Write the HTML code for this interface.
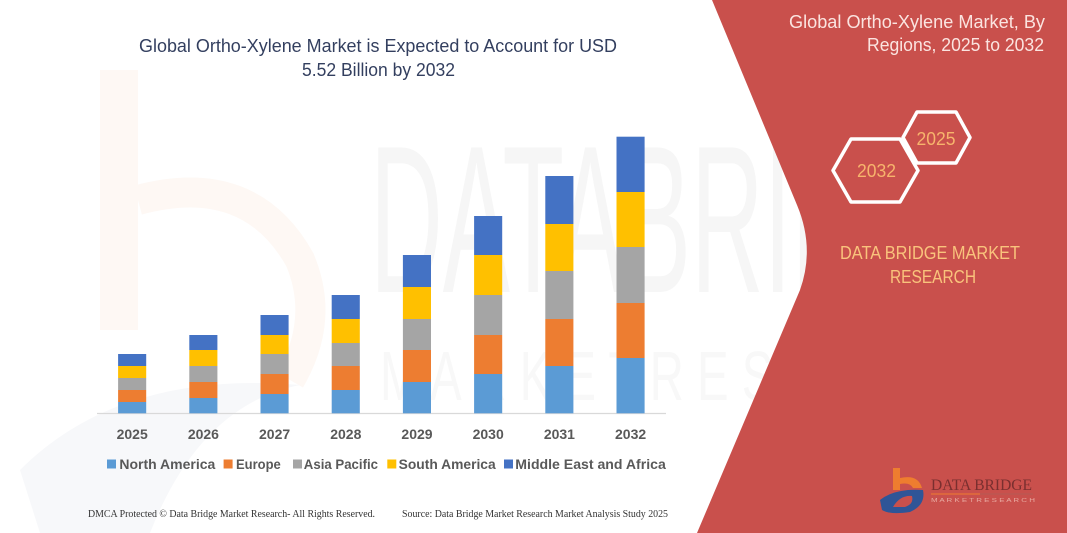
<!DOCTYPE html>
<html>
<head>
<meta charset="utf-8">
<style>
html,body{margin:0;padding:0;background:#fff;}
svg{display:block;}
</style>
</head>
<body>
<svg width="1067" height="533" viewBox="0 0 1067 533" xmlns="http://www.w3.org/2000/svg" font-family="'Liberation Sans', sans-serif">
  <rect width="1067" height="533" fill="#ffffff"/>

  <!-- faint left logo watermark -->
  <path d="M100 70 L138 70 L138 330 L100 330 Z" fill="#fef8f4"/>
  <path d="M138 200 Q250 170 300 260 Q325 320 290 380" fill="none" stroke="#fef8f4" stroke-width="30"/>
  <path d="M20 470 Q120 370 300 385 Q200 405 150 533 L40 533 Z" fill="#f7f8fa"/>

  <!-- faint DATA BRIDGE watermark -->
  <text x="370" y="292" font-size="210" fill="#f6f6f6" textLength="640" lengthAdjust="spacingAndGlyphs">DATABRIDGE</text>
  <text x="380" y="400" font-size="70" fill="#f8f8f8" textLength="620" lengthAdjust="spacingAndGlyphs">M A R K E T   R E S E A R C H</text>

  <!-- red right panel -->
  <path d="M712 0 L797 205 Q815 248 800 290 L697 533 L1067 533 L1067 0 Z" fill="#c9504c"/>

  <!-- left title -->
  <text x="139" y="52" font-size="18" fill="#333f5f" textLength="478" lengthAdjust="spacingAndGlyphs">Global Ortho-Xylene Market is Expected to Account for USD</text>
  <text x="302" y="76" font-size="18" fill="#333f5f" textLength="153" lengthAdjust="spacingAndGlyphs">5.52 Billion by 2032</text>

  <!-- axis line -->
  <line x1="97" y1="413.5" x2="666" y2="413.5" stroke="#d9d9d9" stroke-width="1.2"/>

  <!-- bars -->
  <g>
    <rect x="118.1" y="402" width="28.1" height="11.3" fill="#5b9bd5"/>
    <rect x="118.1" y="390" width="28.1" height="12" fill="#ed7d31"/>
    <rect x="118.1" y="378" width="28.1" height="12" fill="#a5a5a5"/>
    <rect x="118.1" y="366" width="28.1" height="12" fill="#ffc000"/>
    <rect x="118.1" y="354" width="28.1" height="12" fill="#4472c4"/>

    <rect x="189.3" y="398" width="28.1" height="15.3" fill="#5b9bd5"/>
    <rect x="189.3" y="382" width="28.1" height="16" fill="#ed7d31"/>
    <rect x="189.3" y="366" width="28.1" height="16" fill="#a5a5a5"/>
    <rect x="189.3" y="350" width="28.1" height="16" fill="#ffc000"/>
    <rect x="189.3" y="335" width="28.1" height="15" fill="#4472c4"/>

    <rect x="260.5" y="394" width="28.1" height="19.3" fill="#5b9bd5"/>
    <rect x="260.5" y="374" width="28.1" height="20" fill="#ed7d31"/>
    <rect x="260.5" y="354" width="28.1" height="20" fill="#a5a5a5"/>
    <rect x="260.5" y="335" width="28.1" height="19" fill="#ffc000"/>
    <rect x="260.5" y="315" width="28.1" height="20" fill="#4472c4"/>

    <rect x="331.7" y="390" width="28.1" height="23.3" fill="#5b9bd5"/>
    <rect x="331.7" y="366" width="28.1" height="24" fill="#ed7d31"/>
    <rect x="331.7" y="343" width="28.1" height="23" fill="#a5a5a5"/>
    <rect x="331.7" y="319" width="28.1" height="24" fill="#ffc000"/>
    <rect x="331.7" y="295" width="28.1" height="24" fill="#4472c4"/>

    <rect x="402.9" y="382" width="28.1" height="31.3" fill="#5b9bd5"/>
    <rect x="402.9" y="350" width="28.1" height="32" fill="#ed7d31"/>
    <rect x="402.9" y="319" width="28.1" height="31" fill="#a5a5a5"/>
    <rect x="402.9" y="287" width="28.1" height="32" fill="#ffc000"/>
    <rect x="402.9" y="255" width="28.1" height="32" fill="#4472c4"/>

    <rect x="474.1" y="374" width="28.1" height="39.3" fill="#5b9bd5"/>
    <rect x="474.1" y="335" width="28.1" height="39" fill="#ed7d31"/>
    <rect x="474.1" y="295" width="28.1" height="40" fill="#a5a5a5"/>
    <rect x="474.1" y="255" width="28.1" height="40" fill="#ffc000"/>
    <rect x="474.1" y="216" width="28.1" height="39" fill="#4472c4"/>

    <rect x="545.3" y="366" width="28.1" height="47.3" fill="#5b9bd5"/>
    <rect x="545.3" y="319" width="28.1" height="47" fill="#ed7d31"/>
    <rect x="545.3" y="271" width="28.1" height="48" fill="#a5a5a5"/>
    <rect x="545.3" y="224" width="28.1" height="47" fill="#ffc000"/>
    <rect x="545.3" y="176" width="28.1" height="48" fill="#4472c4"/>

    <rect x="616.5" y="358" width="28.1" height="55.3" fill="#5b9bd5"/>
    <rect x="616.5" y="303" width="28.1" height="55" fill="#ed7d31"/>
    <rect x="616.5" y="247" width="28.1" height="56" fill="#a5a5a5"/>
    <rect x="616.5" y="192" width="28.1" height="55" fill="#ffc000"/>
    <rect x="616.5" y="136.7" width="28.1" height="55.3" fill="#4472c4"/>
  </g>

  <!-- x labels -->
  <g font-size="14" font-weight="bold" fill="#595959" text-anchor="middle">
    <text x="132.2" y="439">2025</text>
    <text x="203.4" y="439">2026</text>
    <text x="274.6" y="439">2027</text>
    <text x="345.8" y="439">2028</text>
    <text x="417" y="439">2029</text>
    <text x="488.2" y="439">2030</text>
    <text x="559.4" y="439">2031</text>
    <text x="630.6" y="439">2032</text>
  </g>

  <!-- legend -->
  <g font-size="14" font-weight="bold" fill="#595959">
    <rect x="107" y="459.5" width="9" height="9" fill="#5b9bd5"/>
    <text x="119.4" y="469" textLength="95.9" lengthAdjust="spacingAndGlyphs">North America</text>
    <rect x="223.6" y="459.5" width="9" height="9" fill="#ed7d31"/>
    <text x="236" y="469" textLength="44.8" lengthAdjust="spacingAndGlyphs">Europe</text>
    <rect x="293" y="459.5" width="9" height="9" fill="#a5a5a5"/>
    <text x="303.8" y="469" textLength="74.2" lengthAdjust="spacingAndGlyphs">Asia Pacific</text>
    <rect x="387.3" y="459.5" width="9" height="9" fill="#ffc000"/>
    <text x="398.6" y="469" textLength="97.1" lengthAdjust="spacingAndGlyphs">South America</text>
    <rect x="504" y="459.5" width="9" height="9" fill="#4472c4"/>
    <text x="515.3" y="469" textLength="150.5" lengthAdjust="spacingAndGlyphs">Middle East and Africa</text>
  </g>

  <!-- footer -->
  <g font-family="'Liberation Serif', serif" font-size="10" fill="#333333">
    <text x="88" y="517" textLength="287" lengthAdjust="spacingAndGlyphs">DMCA Protected © Data Bridge Market Research-  All Rights Reserved.</text>
    <text x="402" y="517" textLength="266" lengthAdjust="spacingAndGlyphs">Source: Data Bridge Market Research  Market Analysis Study 2025</text>
  </g>

  <!-- right title -->
  <g font-size="18" fill="#fbe4e0">
    <text x="789" y="28" textLength="256" lengthAdjust="spacingAndGlyphs">Global Ortho-Xylene Market, By</text>
    <text x="867" y="51" textLength="177" lengthAdjust="spacingAndGlyphs">Regions, 2025 to 2032</text>
  </g>

  <!-- hexagons -->
  <polygon points="903,137.5 917,112 956,112 970,137.5 956,163 917,163" fill="none" stroke="#ffffff" stroke-width="3.5" stroke-linejoin="round"/>
  <polygon points="833,170.5 851,139 900,139 918,170.5 900,202 851,202" fill="none" stroke="#ffffff" stroke-width="3.5" stroke-linejoin="round"/>
  <text x="936" y="145" font-size="18" fill="#f7b46c" text-anchor="middle" textLength="39" lengthAdjust="spacingAndGlyphs">2025</text>
  <text x="876.5" y="177" font-size="18" fill="#f7b46c" text-anchor="middle" textLength="39" lengthAdjust="spacingAndGlyphs">2032</text>

  <!-- DBMR text -->
  <text x="840" y="259" font-size="18" fill="#f9c37c" textLength="180" lengthAdjust="spacingAndGlyphs">DATA BRIDGE MARKET</text>
  <text x="890" y="283" font-size="18" fill="#f9c37c" textLength="86" lengthAdjust="spacingAndGlyphs">RESEARCH</text>

  <!-- logo -->
  <g>
    <path d="M893 468 L900 468 L900 478 Q918 474 922 488 L913 488 Q910 482 900 484 L900 490 L893 490 Z" fill="#ee7d2f"/>
    <path d="M880 500 Q895 488 923 490 Q926 505 910 512 Q890 515 882 510 Z" fill="#2f5597"/>
    <path d="M893 507 Q900 495 912 496 Q914 504 905 507 Z" fill="#c9504c"/>
    <text x="931" y="490" font-family="'Liberation Serif', serif" font-size="16" fill="#7a2f2f" textLength="101" lengthAdjust="spacingAndGlyphs">DATA BRIDGE</text>
    <line x1="931" y1="494" x2="980" y2="494" stroke="#ee7d2f" stroke-width="1"/>
    <line x1="980" y1="494" x2="1033" y2="494" stroke="#b55a55" stroke-width="1"/>
    <text x="931" y="502" font-size="5" fill="#e8a9a0" textLength="104" lengthAdjust="spacingAndGlyphs">M A R K E T   R E S E A R C H</text>
  </g>
</svg>
</body>
</html>
